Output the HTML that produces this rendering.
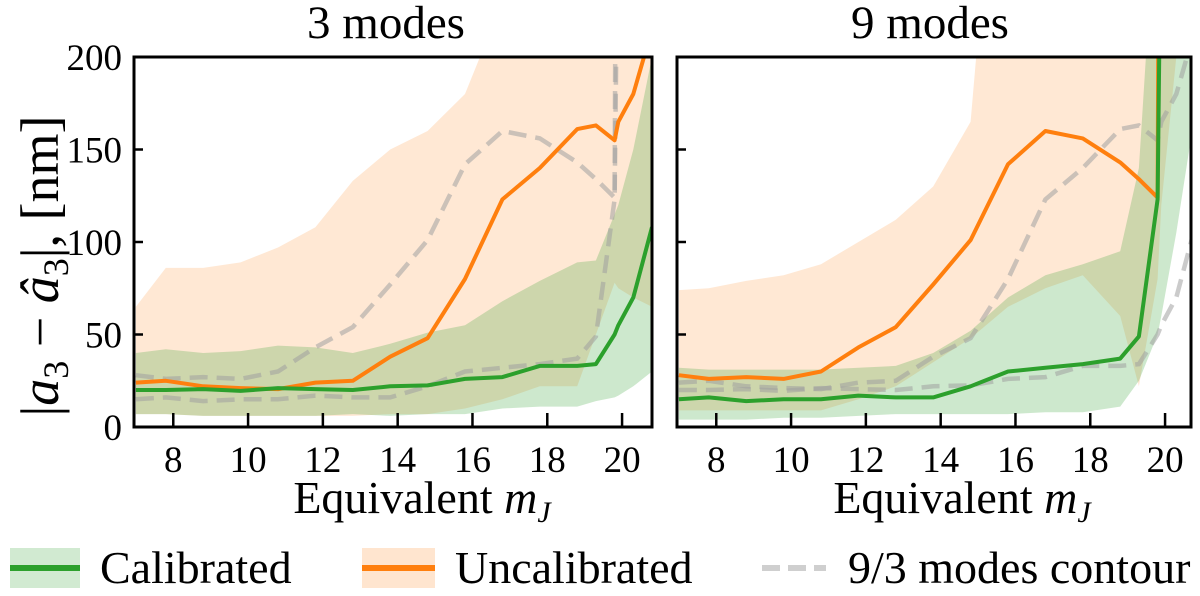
<!DOCTYPE html>
<html><head><meta charset="utf-8"><style>
html,body{margin:0;padding:0;background:#fff;}
svg, svg text{font-family:"Liberation Serif","DejaVu Serif","Noto Serif CJK SC",serif;}
</style></head><body>
<svg id="chart" width="1200" height="591" viewBox="0 0 1200 591" xmlns="http://www.w3.org/2000/svg" font-family="Liberation Serif, DejaVu Serif, serif">
<defs>
<clipPath id="clipL"><rect x="134" y="57" width="518" height="370"/></clipPath>
<clipPath id="clipR"><rect x="677" y="57" width="514" height="370"/></clipPath>
</defs>
<g id="gL"></g>
<g id="gR"></g>
<text x="386" y="38" font-size="47" text-anchor="middle">3 modes</text>
<text x="930" y="38" font-size="47" text-anchor="middle">9 modes</text>
<text transform="translate(58,266) rotate(-90)" font-size="54" text-anchor="middle">|<tspan font-style="italic">a</tspan><tspan font-size="36" dy="10">3</tspan><tspan dy="-10"> − </tspan><tspan font-style="italic">â</tspan><tspan font-size="36" dy="10">3</tspan><tspan dy="-10">|, [nm]</tspan></text>
<text x="422" y="513" font-size="46" text-anchor="middle">Equivalent <tspan font-style="italic">m</tspan><tspan font-style="italic" font-size="30" dy="9">J</tspan></text>
<text x="962" y="513" font-size="46" text-anchor="middle">Equivalent <tspan font-style="italic">m</tspan><tspan font-style="italic" font-size="30" dy="9">J</tspan></text>
<g>
<g>
<rect x="10" y="548" width="70" height="40" fill="#2ca02c" fill-opacity="0.22"/>
<line x1="10" y1="568" x2="80" y2="568" stroke="#2ca02c" stroke-width="6"/>
<text x="100" y="583" font-size="46">Calibrated</text>
</g>
<g>
<rect x="362" y="548" width="73" height="40" fill="#ff7f0e" fill-opacity="0.2"/>
<line x1="362" y1="568" x2="435" y2="568" stroke="#ff7f0e" stroke-width="6"/>
<text x="455" y="583" font-size="46">Uncalibrated</text>
</g>
<g>
<line x1="762" y1="568" x2="826" y2="568" stroke="#bbbbbb" stroke-opacity="0.7" stroke-width="6" stroke-dasharray="18,8"/>
<text x="848" y="583" font-size="46">9/3 modes contour</text>
</g>
</g>
</svg>
<script>
const xs = [7,7.8,8.8,9.8,10.8,11.8,12.8,13.8,14.8,15.8,16.8,17.8,18.8,19.3,19.8,19.9,20.3,20.8];
const xTicks = [8,10,12,14,16,18,20];
const yTicks = [0,50,100,150,200];
// 3 modes
const orangeL = [24,25,22,21,20.5,24,25,38,48,80,123,140,161,163,155,165,180,215];
const greenL  = [20,20,20.5,19.5,21,20.5,20,22,22.5,26,27,33,33,34,50,55,70,108];
const orLoL   = [7,7,6,6,6,6,6,7,7,10,15,22,22,50,78,75,70,65];
const orHiL   = [65,86,86,89,97,108,133,150,160,180,230,300,300,300,300,300,300,300];
const grLoL   = [7,7,6,6,6,6,7,6,7,7,10,11,11,14,16,17,22,30];
const grHiL   = [40,42,40,41,44,43,40,45,51,55,68,79,89,90,115,120,150,200];
// 9 modes
const orangeR = [28,26,27,26,30,43,54,77,101,142,160,156,143,134,124,600,600,600];
const greenR  = [15,16,14,15,15,17,16,16,22,30,32,34,37,49,123,300,600,600];
const orLoR   = [9,9,9,9,9,15,22,35,48,65,75,82,60,22,80,120,200,250];
const orHiR   = [74,75,79,82,88,100,112,130,165,400,400,400,400,400,400,400,400,400];
const grLoR   = [4,4,4,5,5,6,7,7,7,7,8,8,11,25,50,60,105,170];
const grHiR   = [32,31,31,31,31,32,33,40,52,70,82,88,95,140,300,400,400,400];

const NS = "http://www.w3.org/2000/svg";
const Y0 = 427, YS = 1.85, XMIN = 6.95, XS = 37.4;
function yPx(v){ return Y0 - v*YS; }
function mk(tag, attrs, parent){ const e=document.createElementNS(NS,tag); for(const k in attrs) e.setAttribute(k,attrs[k]); parent.appendChild(e); return e; }

function drawPanel(g, left, right, clipId, orange, green, orLo, orHi, grLo, grHi, dashOr, dashGr, showYLabels){
  const xPx = v => left + (v - XMIN)*XS;
  const pts = arr => xs.map((x,i)=>xPx(x).toFixed(1)+","+yPx(arr[i]).toFixed(1));
  const band = (lo,hi) => pts(hi).join(" ")+" "+pts(lo).reverse().join(" ");
  const data = mk("g",{"clip-path":"url(#"+clipId+")"},g);
  const ob = mk("polygon",{points:band(orLo,orHi),fill:"#ff7f0e","fill-opacity":"0.18"},data);
  
  
  const gb = mk("polygon",{points:band(grLo,grHi),fill:"#2ca02c","fill-opacity":"0.24"},data);
  
  
  const d1 = mk("polyline",{points:pts(dashOr).join(" "),fill:"none",stroke:"#a0a0a0","stroke-opacity":"0.55","stroke-width":"4.5","stroke-dasharray":"18,9"},data);
  
  
  const d2 = mk("polyline",{points:pts(dashGr).join(" "),fill:"none",stroke:"#a0a0a0","stroke-opacity":"0.55","stroke-width":"4.5","stroke-dasharray":"18,9"},data);
  
  
  const ol = mk("polyline",{points:pts(orange).join(" "),fill:"none",stroke:"#ff7f0e","stroke-width":"4","stroke-linejoin":"round"},data);
  
  
  const gl = mk("polyline",{points:pts(green).join(" "),fill:"none",stroke:"#2ca02c","stroke-width":"4","stroke-linejoin":"round"},data);
  
  
  xTicks.forEach(t=>{
    const x=xPx(t);
    const tk = mk("line",{x1:x,y1:Y0,x2:x,y2:Y0-14,stroke:"#000","stroke-width":"2.5"},g);
    
    
    const lb = mk("text",{x:x,y:Y0+45,"font-size":"37","text-anchor":"middle"},g);
    lb.textContent = t;
    
    
  });
  yTicks.forEach(t=>{
    const y=yPx(t);
    const tk = mk("line",{x1:left,y1:y,x2:left+9,y2:y,stroke:"#000","stroke-width":"2.5"},g);
    
    
    if(showYLabels){
      const lb = mk("text",{x:left-12,y:y+13,"font-size":"37","text-anchor":"end"},g);
      lb.textContent = t;
      
      
    }
  });
  const fr = mk("rect",{x:left,y:57,width:right-left,height:Y0-57,fill:"none",stroke:"#000","stroke-width":"3"},g);
  
  
}
drawPanel(document.getElementById("gL"),134,652,"clipL",orangeL,greenL,orLoL,orHiL,grLoL,grHiL,orangeR,greenR,true);
drawPanel(document.getElementById("gR"),677,1191,"clipR",orangeR,greenR,orLoR,orHiR,grLoR,grHiR,orangeL,greenL,false);
</script>
</body></html>
